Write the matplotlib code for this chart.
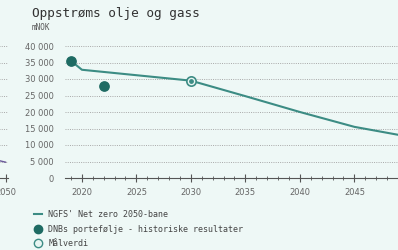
import matplotlib
matplotlib.use("Agg")
import matplotlib.pyplot as plt
from matplotlib.lines import Line2D
from matplotlib.ticker import FuncFormatter, MultipleLocator

# NGFS Net zero 2050 path (mNOK)
path_years = [2019, 2020, 2030, 2035, 2040, 2045, 2050]
path_values = [35500, 32800, 29500, 24800, 20000, 15500, 12500]

# DNB portfolio, historical results
hist_years = [2019, 2022]
hist_values = [35500, 27800]

# target
target_years = [2030]
target_values = [29500]

yticks = [0, 5000, 10000, 15000, 20000, 25000, 30000, 35000, 40000]
xticks = [2020, 2025, 2030, 2035, 2040, 2045, 2050]

bg = "#eef8f6"
teal = "#3c8c84"
dark = "#1e6b63"
grey = "#555555"
grid = "#a8a8a8"
mono = "DejaVu Sans Mono"

W, H = 398, 250
fig = plt.figure(figsize=(W / 100, H / 100), dpi=100)
fig.patch.set_facecolor(bg)

# main axes, pixel based placement
x0, x1 = 2018.45, 2051.0
pxyr = 10.9
left_px = 65
width_px = (x1 - x0) * pxyr
bottom_px = 178
height_px = 40500 * 0.0033
ax = fig.add_axes([left_px / W, (H - bottom_px) / H, width_px / W, height_px / H])
ax.set_facecolor(bg)
ax.set_xlim(x0, x1)
ax.set_ylim(0, 40500)

for y in yticks[1:]:
    ax.axhline(y, color=grid, lw=0.7, ls=(0, (1, 1.3)), zorder=1)

ax.plot(path_years, path_values, color=teal, lw=1.5, zorder=3)
ax.scatter(hist_years, hist_values, s=45, color=dark, zorder=4)
ax.scatter(target_years, target_values, s=45, facecolor="#e8f5f2", edgecolor=teal, lw=1.2, zorder=5)
ax.scatter(target_years, target_values, s=6, color=teal, zorder=6)

for s in ["top", "right", "left"]:
    ax.spines[s].set_visible(False)
ax.spines["bottom"].set_color(grey)
ax.spines["bottom"].set_linewidth(0.8)

ax.set_yticks(yticks)
ax.yaxis.set_major_formatter(FuncFormatter(lambda v, p: f"{int(v):,}".replace(",", " ")))
ax.tick_params(axis="y", length=0, labelsize=6, labelcolor="#666666", pad=8)
ax.set_xticks(xticks)
ax.xaxis.set_minor_locator(MultipleLocator(1))
ax.tick_params(axis="x", which="major", direction="inout", length=6, width=0.8, color=grey,
               labelsize=6, labelcolor="#666666", pad=4)
ax.tick_params(axis="x", which="minor", direction="inout", length=3, width=0.6, color=grey)

# remnant of neighbouring chart on the far left
ax2 = fig.add_axes([-0.31, (H - bottom_px) / H, 0.33, height_px / H])
ax2.set_facecolor(bg)
ax2.patch.set_alpha(0)
ax2.set_xlim(2018.5, 2050.6)
ax2.set_ylim(0, 40500)
for y in yticks[1:]:
    ax2.axhline(y, color=grid, lw=0.7, ls=(0, (1, 1.3)))
ax2.plot([2046, 2050], [6000, 4800], color="#6a5a9a", lw=1)
for s in ["top", "right", "left"]:
    ax2.spines[s].set_visible(False)
ax2.spines["bottom"].set_color(grey)
ax2.set_yticks([])
ax2.set_xticks([2050])
ax2.tick_params(axis="x", direction="inout", length=6, color=grey, labelsize=6, labelcolor="#666666", pad=4)

fig.text(32 / W, 1 - 13 / H, "Oppstrøms olje og gass", family=mono, fontsize=9.2,
         color="#333333", va="center", ha="left")
fig.text(32 / W, 1 - 28 / H, "mNOK", family=mono, fontsize=5.5, color=grey, va="center", ha="left")

handles = [
    Line2D([], [], color=teal, lw=1.5),
    Line2D([], [], marker="o", ls="", color=dark, markersize=6),
    Line2D([], [], marker="o", ls="", markerfacecolor="#e8f5f2", markeredgecolor=teal, markersize=6),
]
labels = ["NGFS' Net zero 2050-bane", "DNBs portefølje - historiske resultater", "Målverdi"]
leg = fig.legend(handles, labels, loc="upper left", bbox_to_anchor=(31 / W, 1 - 207 / H),
                 frameon=False, prop={"family": mono, "size": 6}, labelcolor="#444444",
                 handlelength=0.9, handletextpad=0.8, labelspacing=0.65, borderaxespad=0)

fig.savefig("out.png", dpi=100, facecolor=bg)
